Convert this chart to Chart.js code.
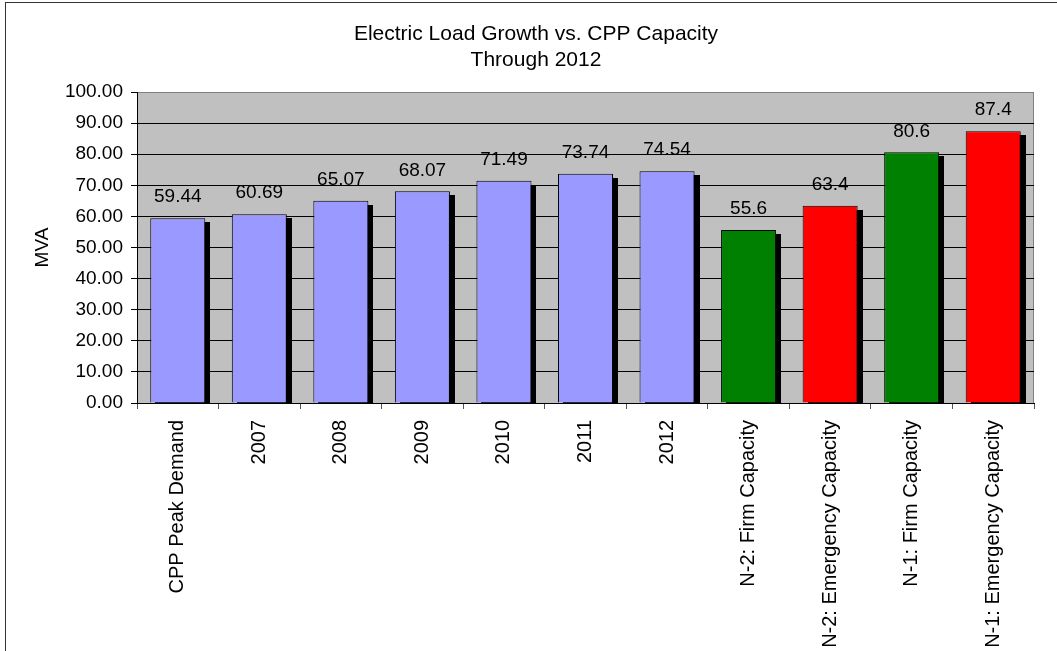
<!DOCTYPE html>
<html>
<head>
<meta charset="utf-8">
<script src="https://cdn.jsdelivr.net/npm/chart.js@4"></script>
<style>
  html, body { margin: 0; padding: 0; background: #fff; }
  #wrap { position: relative; width: 1057px; height: 651px; }
</style>
</head>
<body>
<div id="wrap"><canvas id="c" width="1057" height="651"></canvas></div>
<script>
const categories = ['CPP Peak Demand', '2007', '2008', '2009', '2010', '2011', '2012',
  'N-2: Firm Capacity', 'N-2: Emergency Capacity', 'N-1: Firm Capacity', 'N-1: Emergency Capacity'];
const loadValues = [59.44, 60.69, 65.07, 68.07, 71.49, 73.74, 74.54];
const capacityValues = [55.6, 63.4, 80.6, 87.4];
const capacityKinds = ['firm', 'emergency', 'firm', 'emergency'];
const yTicks = [0, 10, 20, 30, 40, 50, 60, 70, 80, 90, 100];

const FONT = 'Liberation Sans, Arial, sans-serif';
const colorLoad = '#9999FF';
const colorFirm = '#008000';
const colorEmergency = '#FF0000';

const allValues = loadValues.concat(capacityValues);
const barColors = loadValues.map(() => colorLoad)
  .concat(capacityKinds.map(k => k === 'firm' ? colorFirm : colorEmergency));
const labelTexts = loadValues.map(v => v.toFixed(2)).concat(capacityValues.map(v => String(v)));

const framePlugin = {
  id: 'frame',
  afterLayout(chart) {
    if (chart.titleBlock) {
      chart.titleBlock.left = 20;
      chart.titleBlock.right = 1052;
    }
  },
  beforeDraw(chart) {
    const ctx = chart.ctx, a = chart.chartArea;
    ctx.save();
    ctx.strokeStyle = '#333';
    ctx.lineWidth = 1;
    ctx.strokeRect(5.5, 2.5, 1200, 800);
    ctx.fillStyle = '#C0C0C0';
    ctx.fillRect(a.left, a.top, a.right - a.left, a.bottom - a.top);
    ctx.strokeStyle = '#808080';
    ctx.strokeRect(a.left + 0.5, a.top + 0.5, a.right - a.left - 1, a.bottom - a.top);
    ctx.restore();
  }
};

const shadowPlugin = {
  id: 'barShadow',
  beforeDatasetsDraw(chart) {
    const ctx = chart.ctx, a = chart.chartArea;
    const meta = chart.getDatasetMeta(0);
    ctx.save();
    ctx.beginPath();
    ctx.rect(a.left, a.top, a.right - a.left, a.bottom - a.top);
    ctx.clip();
    ctx.fillStyle = '#000';
    meta.data.forEach((el) => {
      const p = el.getProps(['x', 'y', 'base', 'width'], true);
      ctx.fillRect(Math.round(p.x - p.width / 2 + 5), Math.round(p.y + 4), Math.round(p.width), Math.round(p.base - p.y));
    });
    ctx.restore();
  },
  afterDatasetsDraw(chart) {
    const ctx = chart.ctx;
    const meta = chart.getDatasetMeta(0);
    ctx.save();
    ctx.fillStyle = '#000';
    ctx.font = '19px ' + FONT;
    ctx.textAlign = 'center';
    ctx.textBaseline = 'middle';
    meta.data.forEach((el, i) => {
      ctx.fillText(labelTexts[i], el.x, el.y - 21);
    });
    ctx.restore();
  }
};

new Chart(document.getElementById('c'), {
  type: 'bar',
  data: {
    labels: categories,
    datasets: [{
      data: allValues,
      backgroundColor: barColors,
      borderColor: '#000',
      borderWidth: 1,
      borderSkipped: 'bottom',
      categoryPercentage: 1,
      barPercentage: 0.675
    }]
  },
  options: {
    responsive: false,
    animation: false,
    devicePixelRatio: 1,
    layout: { padding: { left: 0, right: 23, top: 0, bottom: 0 } },
    plugins: {
      legend: { display: false },
      tooltip: { enabled: false },
      title: {
        display: true,
        text: ['Electric Load Growth vs. CPP Capacity', 'Through 2012'],
        color: '#000',
        font: { family: FONT, size: 21, weight: 'normal', lineHeight: '26px' },
        padding: { top: 21, bottom: 19 }
      }
    },
    scales: {
      x: {
        grid: {
          display: true,
          drawOnChartArea: false,
          drawTicks: true,
          tickLength: 6,
          color: '#555',
          offset: true
        },
        border: { display: true, color: '#000' },
        ticks: {
          color: '#000',
          font: { family: FONT, size: 20 },
          maxRotation: 90,
          minRotation: 90,
          autoSkip: false,
          padding: 11
        },
        afterFit(scale) { scale.height = 248; }
      },
      y: {
        min: 0,
        max: 100,
        afterBuildTicks(scale) { scale.ticks = yTicks.map(v => ({ value: v })); },
        grid: {
          color: (c) => (c.tick && c.tick.value === 100) ? '#808080' : '#000',
          tickColor: '#000',
          tickLength: 6,
          drawTicks: true
        },
        border: { display: true, color: '#000' },
        ticks: {
          color: '#000',
          font: { family: FONT, size: 19 },
          padding: 8,
          callback: (v) => Number(v).toFixed(2)
        },
        title: {
          display: true,
          text: 'MVA',
          color: '#000',
          font: { family: FONT, size: 19 },
          padding: { top: 31, bottom: 0 }
        },
        afterFit(scale) { scale.width = 137; }
      }
    }
  },
  plugins: [framePlugin, shadowPlugin]
});
</script>
</body>
</html>
